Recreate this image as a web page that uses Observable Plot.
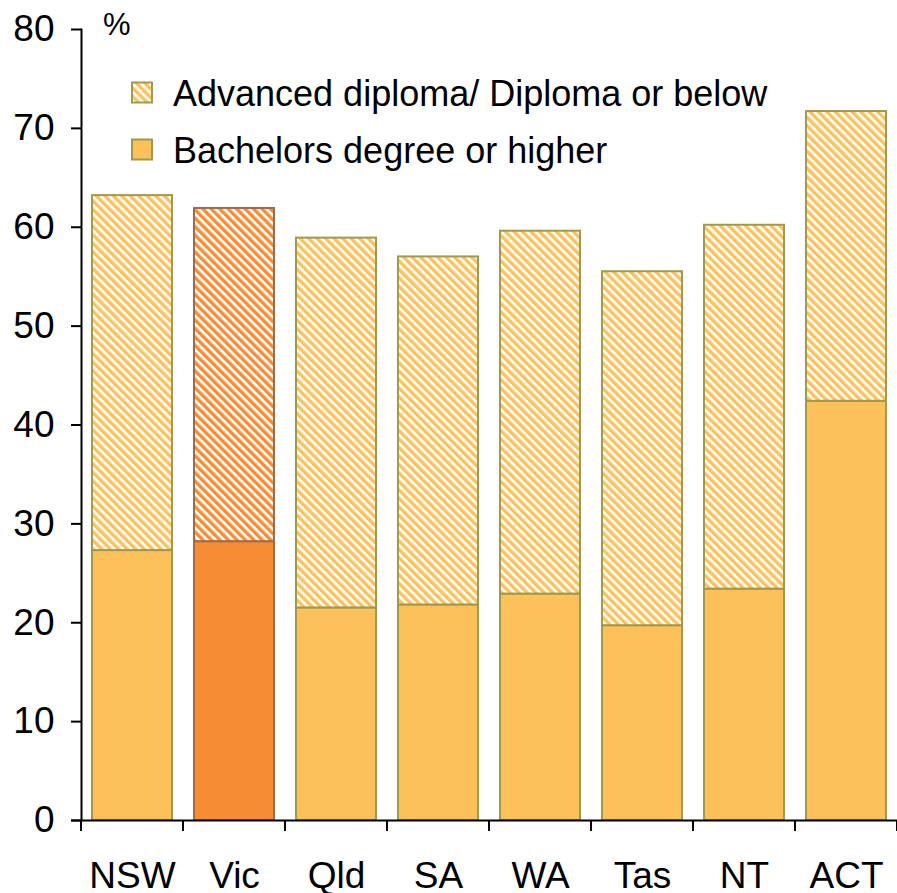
<!DOCTYPE html>
<html><head><meta charset="utf-8">
<script src="https://cdn.jsdelivr.net/npm/d3@7"></script>
<script src="https://cdn.jsdelivr.net/npm/@observablehq/plot@0.6"></script>
<style>body{margin:0;background:#fff;} #c{position:relative;width:897px;height:893px;}</style>
</head><body><div id="c"></div>
<script>
const states = ["NSW","Vic","Qld","SA","WA","Tas","NT","ACT"];
const bachelors = [27.3,28.2,21.5,21.8,22.9,19.7,23.4,42.4];
const diploma = [35.9,33.7,37.4,35.2,36.7,35.8,36.8,29.3];
const yTicks = [0,10,20,30,40,50,60,70,80];
const seriesNames = ["Advanced diploma/ Diploma or below","Bachelors degree or higher"];
const highlight = "Vic";

const data = states.map((s,i)=>({state:s, bach:bachelors[i], top:bachelors[i]+diploma[i]}));
const FONT = "Liberation Sans, Arial, sans-serif";
const cY="#FDC15B", sY="#A09A4C", cO="#F68D35", sO="#A06B4A";

const chart = Plot.plot({
  width:897, height:893, marginTop:29, marginBottom:73, marginLeft:81, marginRight:0,
  style:{fontFamily:FONT, fontSize:"37px", color:"#000", background:"#fff", overflow:"visible"},
  x:{domain:states, paddingInner:0.216, paddingOuter:0.108, axis:null, label:null},
  y:{domain:[0,80], axis:null, label:null},
  marks:[
    Plot.barY(data,{filter:d=>d.state!==highlight, x:"state", y1:0, y2:"bach", fill:cY, stroke:sY, strokeWidth:2}),
    Plot.barY(data,{filter:d=>d.state!==highlight, x:"state", y1:"bach", y2:"top", fill:"url(#hatchY)", stroke:sY, strokeWidth:2}),
    Plot.barY(data,{filter:d=>d.state===highlight, x:"state", y1:0, y2:"bach", fill:cO, stroke:sO, strokeWidth:2}),
    Plot.barY(data,{filter:d=>d.state===highlight, x:"state", y1:"bach", y2:"top", fill:"url(#hatchO)", stroke:sO, strokeWidth:2}),
    Plot.axisY({ticks:yTicks, tickSize:10, tickPadding:17, fontSize:37, label:null, stroke:"#000", strokeWidth:2}),
    Plot.frame({anchor:"left", stroke:"#000", strokeWidth:2}),
    Plot.ruleY([0],{stroke:"#000", strokeWidth:2, insetLeft:-10}),
    Plot.axisX({tickSize:0, tickPadding:41, fontSize:37, label:null})
  ]
});

const svg = d3.select(chart);
const defs = svg.insert("defs",":first-child");
function hatch(id,color){
  const p = defs.append("pattern").attr("id",id).attr("patternUnits","userSpaceOnUse")
    .attr("width",6).attr("height",6).attr("patternTransform","rotate(-45)");
  p.append("rect").attr("width",6).attr("height",6).attr("fill","#fff");
  p.append("rect").attr("width",3.4).attr("height",6).attr("fill",color);
}
hatch("hatchY",cY); hatch("hatchO",cO);

const xs = chart.scale("x"), ys = chart.scale("y");
const gap = (xs.step - xs.bandwidth)/2;
const bounds = states.map(s=>xs.apply(s)-gap); bounds.push(bounds[bounds.length-1]+xs.step);
const y0 = ys.apply(0);
const g = svg.append("g").attr("stroke","#000").attr("stroke-width",2);
bounds.forEach(b=>g.append("line").attr("x1",b).attr("x2",b).attr("y1",y0).attr("y2",y0+11));

svg.append("text").attr("x",103).attr("y",35).attr("font-size",31).attr("font-family",FONT)
  .attr("text-anchor","start").text("%");

const leg = svg.append("g").attr("font-family",FONT).attr("font-size",36).attr("text-anchor","start");
[["url(#hatchY)",93],[cY,150]].forEach(([f,cy],i)=>{
  leg.append("rect").attr("x",132).attr("y",cy-10.5).attr("width",20).attr("height",20).attr("fill",f).attr("stroke",sY).attr("stroke-width",2);
  leg.append("text").attr("x",173).attr("y",cy).attr("dy","0.36em").attr("text-anchor","start").text(seriesNames[i]);
});

document.getElementById("c").appendChild(chart);
</script></body></html>
